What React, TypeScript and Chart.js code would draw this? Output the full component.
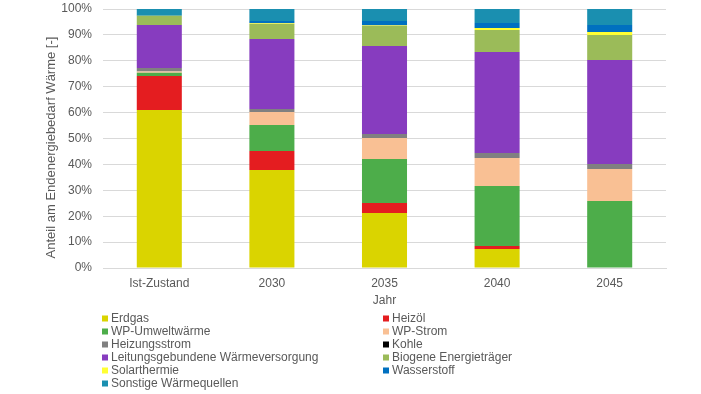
import React, { useEffect, useRef } from "react";
import { Chart, registerables } from "chart.js";

Chart.register(...registerables);

const categories = ["Ist-Zustand", "2030", "2035", "2040", "2045"];
const tickSuffix = "%";
const yTitle = "Anteil am Endenergiebedarf Wärme [-]";
const xTitle = "Jahr";

const seriesNames = [
  "Erdgas",
  "Heizöl",
  "WP-Umweltwärme",
  "WP-Strom",
  "Heizungsstrom",
  "Kohle",
  "Leitungsgebundene Wärmeversorgung",
  "Biogene Energieträger",
  "Solarthermie",
  "Wasserstoff",
  "Sonstige Wärmequellen",
];

const erdgas = [61.0, 37.8, 21.2, 7.3, 0];
const heizoel = [13.1, 7.4, 3.9, 1.2, 0];
const wpUmwelt = [1.3, 10.0, 17.0, 23.2, 25.9];
const wpStrom = [0.5, 5.0, 8.1, 10.8, 12.3];
const heizungsstrom = [1.3, 1.2, 1.5, 1.9, 2.0];
const kohle = [0, 0, 0, 0, 0];
const leitung = [16.6, 27.0, 34.0, 39.0, 40.1];
const biogen = [3.6, 5.9, 7.9, 8.5, 9.7];
const solar = [0, 0.3, 0.2, 0.8, 1.1];
const wasserstoff = [0, 0.8, 1.6, 1.9, 2.7];
const sonstige = [2.6, 4.6, 4.6, 5.4, 6.2];

const seriesValues = [
  erdgas,
  heizoel,
  wpUmwelt,
  wpStrom,
  heizungsstrom,
  kohle,
  leitung,
  biogen,
  solar,
  wasserstoff,
  sonstige,
];

const seriesColors = [
  "#DAD400",
  "#E41D20",
  "#4DAD4A",
  "#F9C094",
  "#808080",
  "#000000",
  "#873CBF",
  "#9BBB59",
  "#FFFF33",
  "#0070C0",
  "#1A8FB0",
];

const textColor = "#595959";
const fontFamily = "'Liberation Sans', Arial, sans-serif";

const legendPlugin = {
  id: "twoColLegend",
  afterDraw(chart: any) {
    const ctx = chart.ctx;
    const colX = [102, 383];
    const startY = 318.5;
    const rowH = 13;
    ctx.save();
    ctx.font = `12px ${fontFamily}`;
    ctx.textBaseline = "middle";
    ctx.textAlign = "left";
    chart.data.datasets.forEach((ds: any, i: number) => {
      const col = i % 2;
      const row = Math.floor(i / 2);
      const x = colX[col];
      const y = startY + row * rowH;
      ctx.fillStyle = ds.backgroundColor;
      ctx.fillRect(x, y - 3, 6, 6);
      ctx.fillStyle = textColor;
      ctx.fillText(ds.label, x + 9, y);
    });
    ctx.restore();
  },
};

const yTitlePlugin = {
  id: "yTitle",
  afterDraw(chart: any) {
    const ctx = chart.ctx;
    const area = chart.chartArea;
    ctx.save();
    ctx.font = `13px ${fontFamily}`;
    ctx.fillStyle = textColor;
    ctx.textAlign = "center";
    ctx.textBaseline = "middle";
    ctx.translate(51, (area.top + area.bottom) / 2 + 9);
    ctx.rotate(-Math.PI / 2);
    ctx.fillText(yTitle, 0, 0);
    ctx.restore();
  },
};

export default function App() {
  const ref = useRef<HTMLCanvasElement>(null);

  useEffect(() => {
    if (!ref.current) return;
    const chart = new Chart(ref.current, {
      type: "bar",
      data: {
        labels: categories,
        datasets: seriesNames.map((name, i) => ({
          label: name,
          data: seriesValues[i],
          backgroundColor: seriesColors[i],
          borderWidth: 0,
          categoryPercentage: 0.4,
          barPercentage: 1.0,
        })),
      },
      options: {
        animation: false,
        responsive: false,
        layout: { padding: { left: 0, right: 35, top: 9, bottom: 86 } },
        plugins: {
          legend: { display: false },
          tooltip: { enabled: false },
        },
        scales: {
          x: {
            stacked: true,
            grid: { display: false },
            border: { display: true, color: "#D9D9D9" },
            ticks: {
              color: textColor,
              font: { family: fontFamily, size: 12 },
              padding: 0,
              maxRotation: 0,
            },
            title: {
              display: true,
              text: xTitle,
              color: textColor,
              font: { family: fontFamily, size: 12 },
              padding: { top: 0, bottom: 0.5 },
            },
            afterFit: (scale: any) => {
              scale.height = 40;
              scale.paddingLeft = 0;
              scale.paddingRight = 0;
            },
          },
          y: {
            stacked: true,
            min: 0,
            max: 100,
            grid: { color: "#D9D9D9", drawTicks: false },
            border: { display: false },
            ticks: {
              stepSize: 10,
              color: textColor,
              font: { family: fontFamily, size: 12 },
              padding: 11,
              callback: (v: any) => `${v}${tickSuffix}`,
            },
            title: { display: false },
            afterFit: (scale: any) => {
              scale.width = 103;
              scale.paddingTop = 0;
              scale.paddingBottom = 0;
            },
          },
        },
      },
      plugins: [legendPlugin, yTitlePlugin],
    });
    return () => chart.destroy();
  }, []);

  return (
    <div style={{ position: "absolute", left: 0, top: 0, width: 701, height: 394, background: "#fff" }}>
      <canvas ref={ref} width={701} height={394} style={{ width: 701, height: 394 }} />
    </div>
  );
}
